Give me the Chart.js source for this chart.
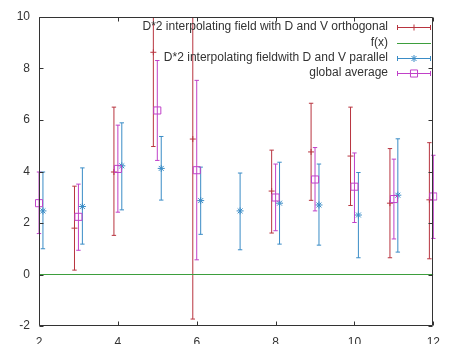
<!DOCTYPE html>
<html>
<head>
<meta charset="utf-8">
<script src="https://cdn.jsdelivr.net/npm/chart.js@4/dist/chart.umd.min.js"></script>
<style>
html,body{margin:0;padding:0;background:#fff;overflow:hidden;}
#wrap{position:relative;width:449px;height:344px;}
</style>
</head>
<body>
<div id="wrap"><canvas id="c" width="449" height="344"></canvas></div>
<script>
// ---- data ----
const seriesNames = ["D*2 interpolating field with D and V orthogonal", "f(x)", "D*2 interpolating fieldwith D and V parallel", "global average"];
const xTicks = [2, 4, 6, 8, 10, 12];
const yTicks = [-2, 0, 2, 4, 6, 8, 10];

const orthoX    = [2.9, 3.9, 4.9, 5.9, 7.9, 8.9, 9.9, 10.9, 11.9];
const orthoY    = [1.80, 3.98, 8.63, 5.26, 3.24, 4.76, 4.60, 2.77, 2.90];
const orthoLow  = [0.17, 1.52, 4.97, -1.73, 1.61, 2.88, 2.68, 0.65, 0.61];
const orthoHigh = [3.43, 6.50, 12.29, 12.25, 4.83, 6.65, 6.50, 4.89, 5.12];

const fX = [2, 12];
const fY = [0, 0];

const parX    = [2.1, 3.1, 4.1, 5.1, 6.1, 7.1, 8.1, 9.1, 10.1, 11.1];
const parY    = [2.47, 2.64, 4.22, 4.12, 2.87, 2.47, 2.77, 2.70, 2.31, 3.08];
const parLow  = [1.00, 1.18, 2.51, 2.89, 1.56, 0.96, 1.18, 1.14, 0.65, 0.87];
const parHigh = [3.98, 4.14, 5.89, 5.36, 4.17, 3.94, 4.36, 4.29, 3.96, 5.27];

const avgX    = [2, 3, 4, 5, 6, 8, 9, 10, 11, 12];
const avgY    = [2.77, 2.24, 4.10, 6.37, 4.05, 2.99, 3.69, 3.41, 2.93, 3.03];
const avgLow  = [1.59, 0.94, 2.42, 4.43, 0.57, 1.70, 2.47, 2.02, 1.38, 1.40];
const avgHigh = [3.98, 3.51, 5.80, 8.31, 7.54, 4.29, 4.93, 4.72, 4.48, 4.63];

// ---- styles ----
const RED = '#b8343f', GREEN = '#3d9e3d', BLUE = '#3a8cc6', PURPLE = '#c040c8';
const AXIS = '#333333';
const FONT = "'Liberation Sans', Arial, sans-serif";

function barPoints(xs, lo, hi) {
  const pts = [];
  xs.forEach((x, i) => { pts.push({x: x, y: lo[i]}, {x: x, y: hi[i]}, {x: x, y: null}); });
  return pts;
}
function centerPoints(xs, ys) { return xs.map((x, i) => ({x: x, y: ys[i]})); }

const clipBox = {left: 4, right: 4, top: 0, bottom: 0};

function barDataset(xs, lo, hi, color, order) {
  return {
    data: barPoints(xs, lo, hi), showLine: true, spanGaps: false,
    borderColor: color, borderWidth: 1, pointStyle: 'line', pointRadius: 2.2,
    pointBorderColor: color, pointBorderWidth: 1, pointHoverRadius: 0,
    clip: clipBox, order: order
  };
}
function markDataset(xs, ys, color, style, radius, order) {
  return {
    data: centerPoints(xs, ys), showLine: false, pointStyle: style, pointRadius: radius,
    pointBorderColor: color, pointBackgroundColor: 'rgba(0,0,0,0)', pointBorderWidth: 1,
    clip: clipBox, order: order
  };
}

const datasets = [
  barDataset(orthoX, orthoLow, orthoHigh, RED, 8),
  markDataset(orthoX, orthoY, RED, 'cross', 3, 7),
  {data: centerPoints(fX, fY), showLine: true, borderColor: GREEN, borderWidth: 1, pointRadius: 0, clip: 0, order: 6},
  barDataset(parX, parLow, parHigh, BLUE, 5),
  markDataset(parX, parY, BLUE, 'star', 3.5, 4),
  barDataset(avgX, avgLow, avgHigh, PURPLE, 3),
  markDataset(avgX, avgY, PURPLE, 'rect', 5, 2)
];

// frame with inward ticks (gnuplot style)
const framePlugin = {
  id: 'frame',
  afterDatasetsDraw(chart) {
    const ctx = chart.ctx, a = chart.chartArea;
    const xs = chart.scales.x, ys = chart.scales.y;
    ctx.save();
    ctx.strokeStyle = AXIS; ctx.lineWidth = 1;
    const L = Math.round(a.left) + 0.5, R = Math.round(a.right) - 0.5;
    const T = Math.round(a.top) + 0.5, B = Math.round(a.bottom) - 0.5;
    ctx.beginPath();
    ctx.rect(L, T, R - L, B - T);
    xTicks.forEach(v => {
      const px = Math.round(xs.getPixelForValue(v)) + 0.5;
      ctx.moveTo(px, B); ctx.lineTo(px, B - 4);
      ctx.moveTo(px, T); ctx.lineTo(px, T + 4);
    });
    yTicks.forEach(v => {
      const py = Math.round(ys.getPixelForValue(v)) + 0.5;
      ctx.moveTo(L, py); ctx.lineTo(L + 4, py);
      ctx.moveTo(R, py); ctx.lineTo(R - 4, py);
    });
    ctx.stroke();
    ctx.restore();
  },
  afterDraw(chart) {
    // legend, gnuplot style: right-aligned text, sample on the right
    const ctx = chart.ctx;
    const textRight = 388, s0 = 397, s1 = 431;
    const rows = [27, 42.5, 58, 73];
    const colors = [RED, GREEN, BLUE, PURPLE];
    ctx.save();
    ctx.font = '12px ' + FONT;
    ctx.textAlign = 'right'; ctx.textBaseline = 'middle';
    seriesNames.forEach((name, i) => {
      const y = rows[i];
      ctx.fillStyle = '#333';
      ctx.fillText(name, textRight, y);
      const c = colors[i];
      ctx.strokeStyle = c; ctx.lineWidth = 1;
      const yy = Math.round(y) + 0.5;
      ctx.beginPath();
      ctx.moveTo(s0, yy); ctx.lineTo(s1, yy);
      if (i !== 1) {
        ctx.moveTo(s0 + 0.5, yy - 2.5); ctx.lineTo(s0 + 0.5, yy + 2.5);
        ctx.moveTo(s1 - 0.5, yy - 2.5); ctx.lineTo(s1 - 0.5, yy + 2.5);
      }
      ctx.stroke();
      const mx = (s0 + s1) / 2;
      ctx.fillStyle = 'rgba(255,255,255,0)';
      ctx.strokeStyle = c;
      if (i === 0) Chart.helpers.drawPoint(ctx, {pointStyle: 'cross', radius: 3, borderWidth: 1}, mx, yy);
      if (i === 2) Chart.helpers.drawPoint(ctx, {pointStyle: 'star', radius: 3.5, borderWidth: 1}, mx, yy);
      if (i === 3) Chart.helpers.drawPoint(ctx, {pointStyle: 'rect', radius: 5, borderWidth: 1}, mx, yy);
    });
    ctx.restore();
  }
};

new Chart(document.getElementById('c'), {
  type: 'scatter',
  data: {datasets: datasets},
  plugins: [framePlugin],
  options: {
    responsive: false, animation: false,
    layout: {padding: {top: 17, right: 5, left: 0, bottom: 0}},
    plugins: {legend: {display: false}, tooltip: {enabled: false}},
    scales: {
      x: {
        type: 'linear', min: 2, max: 12,
        afterBuildTicks: s => { s.ticks = xTicks.map(v => ({value: v})); },
        afterFit: s => { s.height = 18; },
        grid: {display: false, drawTicks: false}, border: {display: false},
        ticks: {padding: 9, color: '#333', font: {family: FONT, size: 12}, maxRotation: 0, autoSkip: false}
      },
      y: {
        type: 'linear', min: -2, max: 10,
        afterBuildTicks: s => { s.ticks = yTicks.map(v => ({value: v})); },
        afterFit: s => { s.width = 39; },
        grid: {display: false, drawTicks: false}, border: {display: false},
        ticks: {padding: 9, color: '#333', font: {family: FONT, size: 12}}
      }
    }
  }
});
</script>
</body>
</html>
